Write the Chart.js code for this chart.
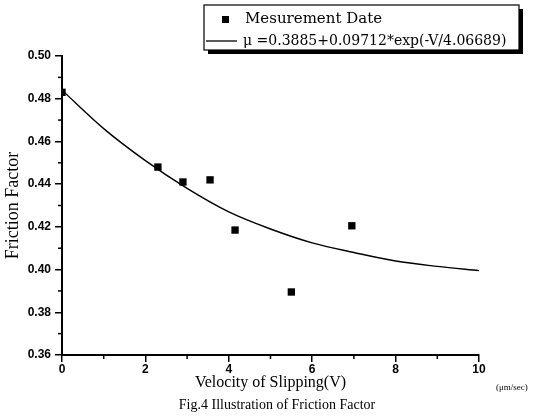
<!DOCTYPE html>
<html lang="en">
<head>
    <meta charset="UTF-8">
    <title>Friction Factor</title>
    <script src="https://cdn.jsdelivr.net/npm/chart.js"></script>
    <style>
        body { margin: 0; background: #fff; }
    </style>
</head>
<body>
    <canvas id="chart" width="533" height="419"></canvas>
</body>

<script>
// measured points
const measV  = [0, 2.3, 2.9, 3.55, 4.15, 5.5, 6.95];
const measMu = [0.483, 0.448, 0.441, 0.442, 0.4185, 0.3895, 0.4205];

// fitted curve
const fitV  = [0, 1, 2, 3, 4, 5, 6, 7, 8, 9, 10];
const fitMu = [0.484, 0.466, 0.451, 0.438, 0.427, 0.419, 0.4125, 0.408, 0.404, 0.4015, 0.3995];

// labels
const measLabel = 'Mesurement Date';
const fitLabel  = 'μ =0.3885+0.09712*exp(-V/4.06689)';
const xTitle  = 'Velocity of Slipping(V)';
const yTitle  = 'Friction Factor';
const caption = 'Fig.4 Illustration of Friction Factor';
const unit    = '(μm/sec)';

// minor ticks
const xMinor = [1, 3, 5, 7, 9];
const yMinor = [0.37, 0.39, 0.41, 0.43, 0.45, 0.47, 0.49];

function toXY(xs, ys){
    return xs.map((x, i) => ({x: x, y: ys[i]}));
}

const serif  = '"Liberation Serif", "DejaVu Serif", serif';
const dserif = '"DejaVu Serif", serif';
const sans   = '"Liberation Sans", Arial, sans-serif';

// extra drawing: minor ticks, legend box, unit and caption
const extras = {
    id: 'extras',
    afterDraw(chart){
        const ctx = chart.ctx;
        const xs = chart.scales.x, ys = chart.scales.y;
        ctx.save();
        ctx.strokeStyle = '#000';
        ctx.lineWidth = 1.5;
        xMinor.forEach(v => {
            const p = xs.getPixelForValue(v);
            ctx.beginPath(); ctx.moveTo(p, ys.bottom); ctx.lineTo(p, ys.bottom + 4); ctx.stroke();
        });
        yMinor.forEach(v => {
            const p = ys.getPixelForValue(v);
            ctx.beginPath(); ctx.moveTo(xs.left, p); ctx.lineTo(xs.left - 4, p); ctx.stroke();
        });

        // legend box with shadow
        const bx = 204, by = 5, bw = 315, bh = 45;
        ctx.fillStyle = '#000';
        ctx.fillRect(bx + 4, by + 4, bw, bh);
        ctx.fillStyle = '#fff';
        ctx.fillRect(bx, by, bw, bh);
        ctx.lineWidth = 1.2;
        ctx.strokeRect(bx, by, bw, bh);

        const ds = chart.data.datasets;
        ctx.fillStyle = '#000';
        ctx.fillRect(222, 16, 7, 7);
        ctx.beginPath(); ctx.moveTo(206, 41); ctx.lineTo(237, 41); ctx.lineWidth = 1.3; ctx.stroke();
        ctx.font = '15px ' + dserif;
        ctx.textBaseline = 'middle';
        ctx.textAlign = 'left';
        ctx.fillText(ds[0].label, 245, 19);
        ctx.font = '14px ' + dserif;
        ctx.fillText(ds[1].label, 243, 41);

        // unit and caption
        ctx.font = '9px ' + serif;
        ctx.fillText(unit, 496, 388);
        ctx.font = '14px ' + serif;
        ctx.textAlign = 'center';
        ctx.fillText(caption, 277, 405);
        ctx.restore();
    }
};

new Chart(document.getElementById('chart'), {
    type: 'scatter',
    data: {
        datasets: [{
            label: measLabel,
            data: toXY(measV, measMu),
            pointStyle: 'rect',
            pointRadius: 5.2,
            backgroundColor: '#000',
            borderColor: '#000',
            borderWidth: 0
        }, {
            label: fitLabel,
            type: 'line',
            data: toXY(fitV, fitMu),
            borderColor: '#000',
            borderWidth: 1.4,
            pointRadius: 0,
            cubicInterpolationMode: 'monotone',
            fill: false
        }]
    },
    plugins: [extras],
    options: {
        responsive: false,
        animation: false,
        layout: { padding: { top: 56, right: 54, left: 0, bottom: 0 } },
        plugins: {
            legend: { display: false },
            tooltip: { enabled: false }
        },
        scales: {
            x: {
                type: 'linear',
                min: 0, max: 10,
                afterFit: s => { s.height = 64; },
                border: { color: '#000', width: 2 },
                grid: { drawOnChartArea: false, color: '#000', lineWidth: 1.5, tickLength: 7 },
                ticks: { stepSize: 2, padding: 0, color: '#000', font: { family: sans, size: 12, weight: 'bold' } },
                title: { display: true, text: xTitle, color: '#000', font: { family: serif, size: 16 }, padding: { top: 0, bottom: 27 } }
            },
            y: {
                min: 0.36, max: 0.50,
                afterFit: s => { s.width = 62; },
                border: { color: '#000', width: 2 },
                grid: { drawOnChartArea: false, color: '#000', lineWidth: 1.5, tickLength: 7 },
                ticks: { stepSize: 0.02, padding: 4, color: '#000', font: { family: sans, size: 12, weight: 'bold' },
                         callback: v => Number(v).toFixed(2) },
                title: { display: true, text: yTitle, color: '#000', font: { family: serif, size: 18 }, padding: { top: 2, bottom: 0 } }
            }
        }
    }
});
</script>
</html>
